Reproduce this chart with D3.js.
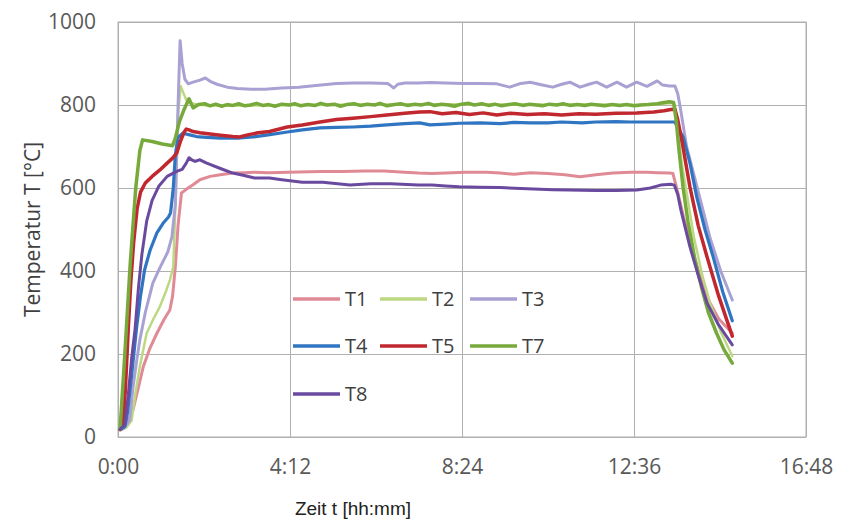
<!DOCTYPE html>
<html lang="de">
<head>
    <meta charset="UTF-8">
    <title>Temperaturverlauf</title>
    <script src="https://d3js.org/d3.v7.min.js"></script>
    <style>
        body {
            margin: 0;
            background: #fff;
        }

        .tick text {
            font-family: "Open Sans", "Noto Sans", sans-serif;
            font-size: 21px;
            fill: #595959;
        }

        .grid line {
            stroke: #b0b0b0;
            stroke-width: 1px;
        }

        .series {
            fill: none;
            stroke-linejoin: round;
            stroke-linecap: round;
        }

        .legend text {
            font-family: "Open Sans", "Noto Sans", sans-serif;
            font-size: 20px;
            fill: #404040;
        }
    </style>
</head>
<body>
    <div id="chart"></div>

    <script>
        // series names, colours and stroke widths (legend order)
        const seriesNames = ['T1', 'T2', 'T3', 'T4', 'T5', 'T7', 'T8'];
        const seriesColors = ['#e08a96', '#bdd882', '#a9a1d3', '#3075c2', '#c0272e', '#77a93b', '#6a4a9f'];

        // tick values: time in minutes, temperature in °C
        const xTicks = [0, 252, 504, 756, 1008];
        const yTicks = [0, 200, 400, 600, 800, 1000];

        // [minute, °C]
        const T1 = [[3,18],[8,20],[15,40],[22,65],[30,120],[37,169],[47,215],[57,250],[68,285],[76,306],[80,340],[84,410],[88,510],[93,588],[101,598],[110,608],[120,620],[135,628],[150,632],[168,636],[185,637],[200,638],[220,637],[250,638],[280,639],[300,640],[330,640],[360,641],[390,641],[420,638],[440,636],[460,635],[480,636],[510,638],[540,638],[560,636],[580,633],[604,637],[630,635],[655,632],[677,627],[700,632],[725,636],[750,638],[775,638],[790,637],[808,636],[813,635],[820,590],[830,520],[840,460],[852,390],[865,330],[880,285],[900,250]];

        const T2 = [[3,18],[12,22],[20,40],[26,110],[32,170],[42,250],[52,285],[61,313],[70,350],[76,378],[81,410],[85,600],[88,780],[92,845],[96,828],[100,812],[105,805],[120,800],[150,798],[200,799],[250,800],[300,800],[350,801],[400,801],[450,802],[500,802],[550,801],[600,801],[650,801],[700,801],[750,800],[790,802],[812,805],[816,800],[820,740],[826,660],[834,580],[844,480],[856,390],[868,320],[884,250],[900,195]];

        const T3 = [[3,18],[10,25],[17,40],[22,120],[27,180],[32,234],[40,300],[51,371],[62,410],[73,446],[79,482],[84,560],[88,800],[91,955],[94,900],[98,862],[103,851],[110,855],[120,860],[128,865],[135,857],[145,850],[160,843],[175,840],[195,838],[215,838],[240,841],[265,843],[290,847],[320,852],[345,853],[370,853],[395,852],[400,846],[404,841],[410,850],[420,853],[440,853],[457,854],[480,853],[505,852],[530,852],[555,851],[574,843],[590,852],[604,855],[620,849],[637,843],[650,850],[662,855],[677,843],[690,850],[701,855],[716,843],[731,855],[745,843],[760,855],[775,845],[790,858],[798,848],[808,846],[816,846],[820,828],[824,792],[833,700],[842,643],[855,560],[867,482],[883,400],[900,330]];

        const T4 = [[3,18],[10,25],[14,60],[20,150],[27,260],[33,340],[39,403],[47,450],[57,492],[66,515],[74,530],[77,540],[81,600],[84,680],[88,722],[95,732],[105,728],[115,724],[130,722],[150,720],[175,720],[198,723],[220,728],[248,735],[270,740],[296,745],[320,746],[344,747],[370,749],[394,752],[420,755],[442,757],[457,752],[480,754],[500,756],[530,757],[560,755],[580,758],[604,757],[630,757],[650,759],[680,757],[700,759],[730,760],[750,759],[780,759],[800,759],[816,759],[820,745],[828,723],[838,660],[848,578],[860,500],[872,434],[886,350],[900,280]];

        const T5 = [[3,18],[8,40],[11,120],[15,260],[19,380],[23,470],[28,550],[33,590],[40,612],[50,628],[61,643],[72,660],[80,672],[86,684],[92,715],[97,735],[100,742],[104,740],[110,736],[120,733],[135,730],[150,727],[168,724],[178,723],[190,728],[205,733],[222,736],[248,747],[270,752],[296,759],[320,765],[344,768],[370,772],[394,776],[420,780],[442,783],[457,784],[475,779],[495,782],[515,777],[535,781],[555,776],[575,780],[600,777],[625,779],[650,776],[675,779],[700,778],[730,780],[760,781],[785,783],[800,786],[810,789],[816,790],[820,765],[826,715],[838,602],[850,510],[863,434],[880,340],[900,243]];

        const T7 = [[3,18],[10,200],[18,420],[26,600],[32,690],[36,716],[50,712],[65,706],[80,702],[84,720],[90,760],[97,790],[104,815],[110,793],[118,801],[127,803],[135,798],[143,802],[152,797],[160,801],[168,799],[177,803],[186,798],[194,800],[203,804],[212,799],[221,801],[230,797],[240,802],[251,800],[259,803],[268,798],[278,801],[289,799],[297,804],[306,800],[317,802],[326,797],[335,801],[346,803],[355,799],[365,802],[376,800],[384,804],[394,798],[405,801],[414,803],[424,799],[435,802],[444,800],[455,804],[463,799],[474,802],[484,800],[493,797],[503,802],[514,804],[522,800],[533,803],[543,799],[552,802],[562,798],[573,801],[582,803],[593,799],[603,802],[613,800],[622,798],[632,802],[643,800],[652,803],[662,799],[673,801],[684,799],[693,802],[703,800],[713,798],[724,801],[735,799],[745,801],[756,798],[766,800],[777,801],[790,803],[800,806],[808,808],[814,806],[818,760],[822,690],[828,600],[835,520],[845,430],[855,360],[865,300],[877,250],[888,210],[900,178]];

        const T8 = [[3,18],[10,30],[15,100],[20,190],[25,260],[30,360],[35,440],[42,520],[50,570],[60,605],[72,628],[86,640],[94,645],[100,660],[104,673],[108,668],[113,664],[120,668],[130,660],[150,647],[168,636],[185,630],[200,624],[222,624],[240,620],[270,614],[300,614],[340,607],[370,610],[400,610],[440,607],[460,607],[480,605],[500,603],[530,602],[560,601],[600,598],[637,596],[660,595],[700,594],[730,594],[760,595],[780,600],[795,607],[810,609],[815,607],[820,585],[825,545],[838,458],[850,390],[863,323],[880,270],[900,222]];

        const seriesData = [T1, T2, T3, T4, T5, T7, T8];
        const seriesWidths = [3, 2.5, 3, 3.2, 3.5, 3.5, 3];

        function formatTime(min) {
            const h = Math.floor(min / 60);
            const m = min % 60;
            return h + ':' + (m < 10 ? '0' + m : m);
        }

        function renderChart() {
            const margin = { top: 22, right: 50, bottom: 83, left: 118 },
                width = 856 - margin.left - margin.right,
                height = 520 - margin.top - margin.bottom;

            const svg = d3.select('#chart').append('svg')
                .attr('width', 856)
                .attr('height', 520);

            const g = svg.append('g')
                .attr('transform', `translate(${margin.left},${margin.top})`);

            const x = d3.scaleLinear().domain([0, 1008]).range([0, width]);
            const y = d3.scaleLinear().domain([0, 1000]).range([height, 0]);

            // grid + tick labels
            g.append('g')
                .attr('class', 'grid')
                .call(d3.axisLeft(y).tickValues(yTicks).tickFormat(d3.format('d')).tickSize(-width).tickPadding(22))
                .call(a => a.select('.domain').remove());

            g.append('g')
                .attr('class', 'grid')
                .attr('transform', `translate(0,${height})`)
                .call(d3.axisBottom(x).tickValues(xTicks).tickFormat(formatTime).tickSize(-height).tickPadding(22))
                .call(a => a.select('.domain').remove());

            // frame
            g.append('rect')
                .attr('width', width)
                .attr('height', height)
                .attr('fill', 'none')
                .attr('stroke', '#b0b0b0');

            const line = d3.line()
                .x(d => x(d[0]))
                .y(d => y(d[1]));

            seriesData.forEach((data, i) => {
                g.append('path')
                    .datum(data)
                    .attr('class', 'series')
                    .attr('d', line)
                    .attr('stroke', seriesColors[i])
                    .attr('stroke-width', seriesWidths[i]);
            });

            // legend inside the plot, three per row
            const legend = svg.append('g').attr('class', 'legend');
            const colX = [293, 380, 470];
            const rowY = [299, 346, 394];
            seriesNames.forEach((name, i) => {
                const lx = colX[i % 3], ly = rowY[Math.floor(i / 3)];
                legend.append('line')
                    .attr('x1', lx).attr('x2', lx + 47)
                    .attr('y1', ly).attr('y2', ly)
                    .attr('stroke', seriesColors[i])
                    .attr('stroke-width', 3.5);
                legend.append('text')
                    .attr('x', lx + 52)
                    .attr('y', ly)
                    .attr('dy', '0.35em')
                    .text(name);
            });

            // axis titles
            svg.append('text')
                .attr('transform', 'rotate(-90)')
                .attr('x', -(margin.top + height / 2))
                .attr('y', 33)
                .attr('dy', '0.35em')
                .attr('text-anchor', 'middle')
                .style('font-family', '"Open Sans", "Noto Sans", sans-serif')
                .style('font-size', '21px')
                .style('fill', '#404040')
                .text('Temperatur T [°C]');

            svg.append('text')
                .attr('x', 353)
                .attr('y', 515)
                .attr('text-anchor', 'middle')
                .style('font-family', '"Liberation Sans", Arial, sans-serif')
                .style('font-size', '19px')
                .style('fill', '#222')
                .text('Zeit t [hh:mm]');
        }

        renderChart();
    </script>
</body>
</html>
